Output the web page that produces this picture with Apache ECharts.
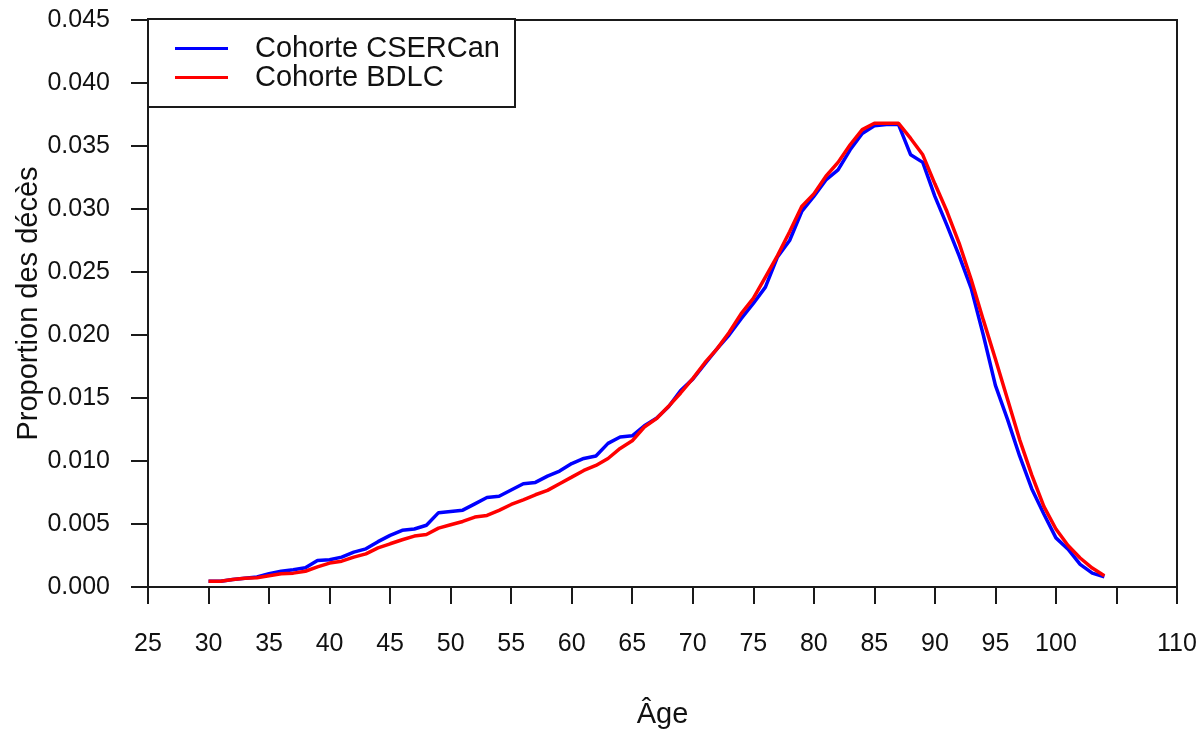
<!DOCTYPE html>
<html>
<head>
<meta charset="utf-8">
<script src="https://cdn.jsdelivr.net/npm/echarts@6/dist/echarts.min.js"></script>
<style>
  html, body { margin: 0; padding: 0; background: #fff; }
  #chart { width: 1203px; height: 729px; }
</style>
</head>
<body>
<div id="chart"></div>
<script>
const ages = [30, 31, 32, 33, 34, 35, 36, 37, 38, 39,
  40, 41, 42, 43, 44, 45, 46, 47, 48, 49,
  50, 51, 52, 53, 54, 55, 56, 57, 58, 59,
  60, 61, 62, 63, 64, 65, 66, 67, 68, 69,
  70, 71, 72, 73, 74, 75, 76, 77, 78, 79,
  80, 81, 82, 83, 84, 85, 86, 87, 88, 89,
  90, 91, 92, 93, 94, 95, 96, 97, 98, 99,
  100, 101, 102, 103, 104]

// Cohorte CSERCan (bleu)
const cserCan = [0.00045, 0.00046, 0.0006, 0.0007, 0.0008, 0.00105, 0.00125, 0.00137, 0.00152, 0.0021,
  0.00216, 0.00237, 0.00277, 0.00303, 0.0036, 0.0041, 0.0045, 0.0046, 0.0049, 0.0059,
  0.006, 0.0061, 0.0066, 0.0071, 0.0072, 0.0077, 0.0082, 0.0083, 0.0088, 0.0092,
  0.0098, 0.0102, 0.0104, 0.0114, 0.0119, 0.012, 0.0128, 0.0134, 0.0143, 0.0156,
  0.0165, 0.0177, 0.0189, 0.02, 0.0213, 0.0225, 0.0238, 0.0262, 0.0275, 0.0298,
  0.031, 0.0323, 0.0331, 0.0347, 0.036, 0.0366, 0.0367, 0.0367, 0.0343, 0.0337,
  0.031, 0.0287, 0.0263, 0.0237, 0.0200, 0.0160, 0.0133, 0.0104, 0.0078, 0.0058,
  0.0039, 0.003, 0.0018, 0.0011, 0.0008]

// Cohorte BDLC (rouge)
const bdlc = [0.00045, 0.00046, 0.0006, 0.0007, 0.00073, 0.0009, 0.00105, 0.0011, 0.00125, 0.0016,
  0.0019, 0.00205, 0.00237, 0.00263, 0.0031, 0.00343, 0.00375, 0.00404, 0.00417, 0.00467,
  0.00494, 0.0052, 0.00555, 0.00568, 0.00608, 0.00655, 0.00692, 0.00732, 0.00767, 0.0082,
  0.00872, 0.00925, 0.00965, 0.0102, 0.011, 0.0116, 0.0127, 0.01336, 0.01434, 0.0154,
  0.01654, 0.0178, 0.0189, 0.0202, 0.0217, 0.0229, 0.0246, 0.0263, 0.0282, 0.0302,
  0.0312, 0.0326, 0.0337, 0.0351, 0.0363, 0.0368, 0.0368, 0.0368, 0.0356, 0.0343,
  0.032, 0.0298, 0.0273, 0.0244, 0.0212, 0.0181, 0.0149, 0.0117, 0.0089, 0.0064,
  0.0046, 0.0033, 0.0023, 0.0015, 0.0009]

const hiddenXLabels = [105]

const font = "'Liberation Sans', Arial, sans-serif"

var chart = echarts.init(document.getElementById('chart'))

var option = {
  backgroundColor: '#fff',
  animation: false,
  textStyle: { fontFamily: font },
  grid: {
    left: 148,
    right: 26,
    top: 20,
    bottom: 142,
    show: true,
    borderColor: '#1a1a1a',
    borderWidth: 2,
    containLabel: false,
    outerBoundsMode: 'none',
  },
  legend: {
    orient: 'vertical',
    left: 148,
    top: 19,
    backgroundColor: '#fff',
    borderColor: '#1a1a1a',
    borderWidth: 2,
    borderRadius: 0,
    padding: [15, 15, 15, 27],
    itemGap: 0,
    itemWidth: 53,
    itemHeight: 3,
    icon: 'rect',
    textStyle: {
      fontFamily: font,
      fontSize: 29,
      color: '#111',
      lineHeight: 27,
      padding: [0, 0, 0, 22],
    },
    data: ['Cohorte CSERCan', 'Cohorte BDLC'],
  },
  xAxis: {
    type: 'value',
    min: 25,
    max: 110,
    interval: 5,
    name: 'Âge',
    nameLocation: 'middle',
    nameGap: 113,
    nameMoveOverlap: false,
    nameTextStyle: { fontFamily: font, fontSize: 29, color: '#111' },
    axisLine: { show: true, onZero: false, lineStyle: { color: '#1a1a1a', width: 2 } },
    axisTick: { show: true, inside: false, length: 17, lineStyle: { color: '#1a1a1a', width: 2 } },
    axisLabel: {
      show: true,
      margin: 45,
      fontSize: 25,
      color: '#111',
      fontFamily: font,
      formatter: function (v) {
        return hiddenXLabels.indexOf(v) >= 0 ? '' : String(v)
      },
      showMinLabel: true,
      showMaxLabel: true,
    },
    splitLine: { show: false },
  },
  yAxis: {
    type: 'value',
    min: 0,
    max: 0.045,
    interval: 0.005,
    name: 'Proportion des décès',
    nameLocation: 'middle',
    nameGap: 105,
    nameMoveOverlap: false,
    nameRotate: 90,
    nameTextStyle: { fontFamily: font, fontSize: 29, color: '#111' },
    axisLine: { show: true, onZero: false, lineStyle: { color: '#1a1a1a', width: 2 } },
    axisTick: { show: true, inside: false, length: 17, lineStyle: { color: '#1a1a1a', width: 2 } },
    axisLabel: {
      margin: 38,
      fontSize: 25,
      color: '#111',
      fontFamily: font,
      formatter: function (v) {
        return v.toFixed(3)
      },
      showMinLabel: true,
      showMaxLabel: true,
    },
    splitLine: { show: false },
  },
  series: [
    {
      name: 'Cohorte CSERCan',
      type: 'line',
      data: ages.map((a, i) => [a, cserCan[i]]),
      showSymbol: false,
      symbol: 'none',
      color: '#0000ff',
      lineStyle: { color: '#0000ff', width: 3.5 },
      z: 2,
    },
    {
      name: 'Cohorte BDLC',
      type: 'line',
      data: ages.map((a, i) => [a, bdlc[i]]),
      showSymbol: false,
      symbol: 'none',
      color: '#ff0000',
      lineStyle: { color: '#ff0000', width: 3.5 },
      z: 3,
    },
  ],
}

chart.setOption(option)
</script>
</body>
</html>
